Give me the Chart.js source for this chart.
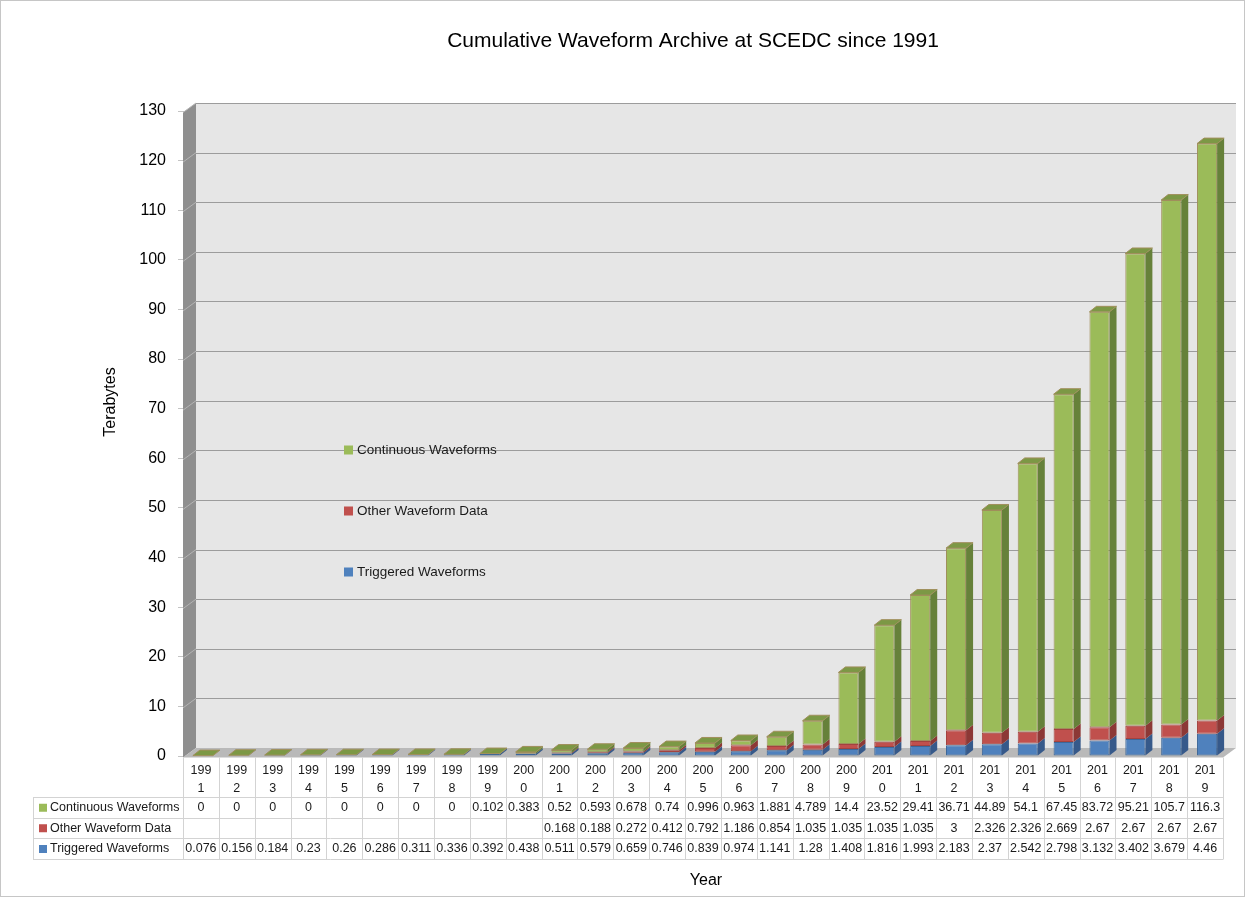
<!DOCTYPE html>
<html>
<head>
<meta charset="utf-8">
<title>Cumulative Waveform Archive at SCEDC since 1991</title>
<script src="https://cdn.jsdelivr.net/npm/chart.js@4.4.1/dist/chart.umd.min.js"></script>
<style>
  html, body { margin: 0; padding: 0; background: #ffffff; }
  canvas { display: block; }
</style>
</head>
<body>
<canvas id="archive" width="1246" height="898"></canvas>
<script>
// Archive size per year, in terabytes (cumulative)
const years = [1991, 1992, 1993, 1994, 1995, 1996, 1997, 1998, 1999, 2000,
               2001, 2002, 2003, 2004, 2005, 2006, 2007, 2008, 2009, 2010,
               2011, 2012, 2013, 2014, 2015, 2016, 2017, 2018, 2019];

const continuousWaveforms = [0, 0, 0, 0, 0, 0, 0, 0, 0.102, 0.383,
                             0.52, 0.593, 0.678, 0.74, 0.996, 0.963, 1.881, 4.789, 14.4, 23.52,
                             29.41, 36.71, 44.89, 54.1, 67.45, 83.72, 95.21, 105.7, 116.3];

const otherWaveformData = [null, null, null, null, null, null, null, null, null, null,
                           0.168, 0.188, 0.272, 0.412, 0.792, 1.186, 0.854, 1.035, 1.035, 1.035,
                           1.035, 3, 2.326, 2.326, 2.669, 2.67, 2.67, 2.67, 2.67];

const triggeredWaveforms = [0.076, 0.156, 0.184, 0.23, 0.26, 0.286, 0.311, 0.336, 0.392, 0.438,
                            0.511, 0.579, 0.659, 0.746, 0.839, 0.974, 1.141, 1.28, 1.408, 1.816,
                            1.993, 2.183, 2.37, 2.542, 2.798, 3.132, 3.402, 3.679, 4.46];

const yAxisMax = 130;
const yAxisStep = 10;

const FONT = "'Liberation Sans', Arial, Helvetica, sans-serif";

// Face colours for the 3-D columns: front, right side, top
const palette = {
  triggered:  { front: '#4f81bd', side: '#36598a', top: '#4470a6', edge: '#3d6799' },
  other:      { front: '#c0504d', side: '#8c3836', top: '#a84542', edge: '#a3423f' },
  continuous: { front: '#9bbb59', side: '#66813a', top: '#7c9845', edge: '#a08f5c' }
};

// Depth geometry (pixels)
const AXIS_PLANE = { dx: -2, dy: 1.5 };   // front of floor / axis, relative to column fronts
const WALL_DEPTH = { dx: 13, dy: -9.5 };  // from axis plane to back wall
const COLUMN_DEPTH = { dx: 7, dy: -5.5 }; // visible depth of each column

const rows = [
  { label: 'Continuous Waveforms', values: continuousWaveforms, color: palette.continuous.front },
  { label: 'Other Waveform Data', values: otherWaveformData, color: palette.other.front },
  { label: 'Triggered Waveforms', values: triggeredWaveforms, color: palette.triggered.front }
];

function poly(ctx, pts, fill, stroke) {
  ctx.beginPath();
  ctx.moveTo(pts[0][0], pts[0][1]);
  for (let i = 1; i < pts.length; i++) ctx.lineTo(pts[i][0], pts[i][1]);
  ctx.closePath();
  if (fill) { ctx.fillStyle = fill; ctx.fill(); }
  if (stroke) { ctx.strokeStyle = stroke; ctx.lineWidth = 1; ctx.stroke(); }
}

// Walls, floor, gridlines, in-plot legend and titles
const walls3d = {
  id: 'walls3d',
  beforeDatasetsDraw(chart) {
    const { ctx, chartArea: a, scales: { y } } = chart;
    const fx0 = a.left + AXIS_PLANE.dx;
    const fxR = a.right + AXIS_PLANE.dx;
    const yF = v => y.getPixelForValue(v) + AXIS_PLANE.dy;
    const bx0 = fx0 + WALL_DEPTH.dx;
    const bxR = fxR + WALL_DEPTH.dx;
    const yB = v => yF(v) + WALL_DEPTH.dy;

    ctx.save();
    // back wall
    ctx.fillStyle = '#e6e6e6';
    ctx.fillRect(bx0, yB(yAxisMax), bxR - bx0, yB(0) - yB(yAxisMax));
    // side wall
    poly(ctx, [[fx0, yF(yAxisMax)], [bx0, yB(yAxisMax)], [bx0, yB(0)], [fx0, yF(0)]], '#8f8f8f');
    // floor
    poly(ctx, [[fx0, yF(0)], [bx0, yB(0)], [bxR, yB(0)], [fxR, yF(0)]], '#b9b9b9');

    // gridlines on the back wall and across the side wall
    ctx.lineWidth = 1;
    y.ticks.forEach(t => {
      const v = t.value;
      if (v === 0) return;
      const yb = Math.round(yB(v)) + 0.5;
      ctx.strokeStyle = '#9c9c9c';
      ctx.beginPath();
      ctx.moveTo(bx0, yb);
      ctx.lineTo(bxR, yb);
      ctx.stroke();
      ctx.strokeStyle = '#b4b4b4';
      ctx.beginPath();
      ctx.moveTo(fx0, yF(v));
      ctx.lineTo(bx0, yB(v));
      ctx.stroke();
    });

    // legend inside the plot
    const legendItems = [
      { text: chart.data.datasets[2].label, color: palette.continuous.front, y: 450.5 },
      { text: chart.data.datasets[1].label, color: palette.other.front, y: 511.5 },
      { text: chart.data.datasets[0].label, color: palette.triggered.front, y: 572.5 }
    ];
    ctx.font = '13.5px ' + FONT;
    ctx.textBaseline = 'middle';
    ctx.textAlign = 'left';
    legendItems.forEach(it => {
      ctx.fillStyle = it.color;
      ctx.fillRect(344, it.y - 5, 9, 9);
      ctx.fillStyle = '#1a1a1a';
      ctx.fillText(it.text, 357, it.y);
    });
    ctx.restore();
  },

  afterDatasetsDraw(chart) {
    const { ctx } = chart;
    const faces = [palette.triggered, palette.other, palette.continuous];
    const n = chart.data.labels.length;
    ctx.save();
    ctx.lineWidth = 1;
    for (let i = 0; i < n; i++) {
      let topIdx = -1;
      chart.data.datasets.forEach((ds, d) => {
        const v = ds.data[i];
        if (v === null || v === undefined) return;
        const el = chart.getDatasetMeta(d).data[i];
        if (!el) return;
        topIdx = d;
        const x2 = el.x + el.width / 2;
        const yt = el.y, yb = el.base;
        // right side face
        poly(ctx, [[x2, yt], [x2 + COLUMN_DEPTH.dx, yt + COLUMN_DEPTH.dy],
                   [x2 + COLUMN_DEPTH.dx, yb + COLUMN_DEPTH.dy], [x2, yb]],
             faces[d].side, null);
      });
      if (topIdx >= 0) {
        const el = chart.getDatasetMeta(topIdx).data[i];
        const x1 = el.x - el.width / 2, x2 = el.x + el.width / 2, yt = el.y;
        poly(ctx, [[x1, yt], [x1 + COLUMN_DEPTH.dx, yt + COLUMN_DEPTH.dy],
                   [x2 + COLUMN_DEPTH.dx, yt + COLUMN_DEPTH.dy], [x2, yt]],
             faces[topIdx].top, faces[topIdx].edge);
      }
    }
    ctx.restore();
  },

  afterDraw(chart) {
    const { ctx, chartArea: a, scales: { x } } = chart;
    const n = chart.data.labels.length;
    const catW = (a.right - a.left) / n;
    const colLeft = i => x.getPixelForValue(i) - catW / 2 + AXIS_PLANE.dx;
    const tableTop = a.bottom + AXIS_PLANE.dy;
    const rowLines = [797, 817.5, 838, 859];
    const keyLeft = 33;
    const tableLeft = colLeft(0);
    const tableRight = colLeft(n - 1) + catW;

    ctx.save();
    // grid of the data table
    ctx.strokeStyle = '#d3d3d3';
    ctx.lineWidth = 1;
    ctx.beginPath();
    rowLines.forEach(yl => {
      const yy = Math.round(yl) + 0.5;
      ctx.moveTo(keyLeft, yy);
      ctx.lineTo(tableRight, yy);
    });
    for (let i = 0; i <= n; i++) {
      const xx = Math.round(i < n ? colLeft(i) : tableRight) + 0.5;
      ctx.moveTo(xx, tableTop);
      ctx.lineTo(xx, rowLines[3] + 0.5);
    }
    ctx.moveTo(keyLeft + 0.5, rowLines[0]);
    ctx.lineTo(keyLeft + 0.5, rowLines[3] + 0.5);
    ctx.stroke();

    ctx.fillStyle = '#1a1a1a';
    ctx.font = '12.5px ' + FONT;
    ctx.textBaseline = 'middle';
    ctx.textAlign = 'center';
    // year header, wrapped as in a narrow column
    chart.data.labels.forEach((lab, i) => {
      const cx = colLeft(i) + catW / 2;
      ctx.fillText(lab.slice(0, 3), cx, 771);
      ctx.fillText(lab.slice(3), cx, 788.5);
    });
    // series rows
    rows.forEach((r, k) => {
      const cy = (rowLines[k] + rowLines[k + 1]) / 2 + 0.5;
      ctx.fillStyle = r.color;
      ctx.fillRect(39, cy - 4, 8, 8);
      ctx.fillStyle = '#1a1a1a';
      ctx.textAlign = 'left';
      ctx.fillText(r.label, 50, cy);
      ctx.textAlign = 'center';
      r.values.forEach((v, i) => {
        if (v === null) return;
        ctx.fillText(String(v), colLeft(i) + catW / 2, cy);
      });
    });

    // chart title and axis titles
    ctx.fillStyle = '#000000';
    ctx.font = '21px ' + FONT;
    ctx.fillText('Cumulative Waveform Archive at SCEDC since 1991', 693, 41);
    ctx.font = '16px ' + FONT;
    ctx.fillText('Year', 706, 881);
    ctx.save();
    ctx.translate(111, 402);
    ctx.rotate(-Math.PI / 2);
    ctx.fillText('Terabytes', 0, 0);
    ctx.restore();

    // outer frame
    ctx.strokeStyle = '#c6c6c6';
    ctx.strokeRect(0.5, 0.5, 1244, 896);
    ctx.restore();
  }
};

new Chart(document.getElementById('archive'), {
  type: 'bar',
  data: {
    labels: years.map(String),
    datasets: [
      { label: 'Triggered Waveforms', data: triggeredWaveforms,
        backgroundColor: palette.triggered.front, borderColor: palette.triggered.edge },
      { label: 'Other Waveform Data', data: otherWaveformData,
        backgroundColor: palette.other.front, borderColor: palette.other.edge },
      { label: 'Continuous Waveforms', data: continuousWaveforms,
        backgroundColor: palette.continuous.front, borderColor: palette.continuous.edge }
    ]
  },
  options: {
    responsive: false,
    animation: false,
    devicePixelRatio: 1,
    layout: { padding: { top: 111, bottom: 142, left: 0, right: 21 } },
    datasets: {
      bar: { barPercentage: 0.56, categoryPercentage: 1.0, borderWidth: 1, borderSkipped: false }
    },
    scales: {
      x: { stacked: true, display: false },
      y: {
        stacked: true,
        min: 0,
        max: yAxisMax,
        afterFit(scale) { scale.width = 185; },
        ticks: { stepSize: yAxisStep, padding: 12, color: '#000000',
                 font: { family: FONT, size: 16 } },
        grid: { drawOnChartArea: false, drawTicks: true, tickLength: 7, color: '#c4c4c4' },
        border: { display: false }
      }
    },
    plugins: {
      legend: { display: false },
      tooltip: { enabled: false },
      title: { display: false }
    }
  },
  plugins: [walls3d]
});
</script>
</body>
</html>
